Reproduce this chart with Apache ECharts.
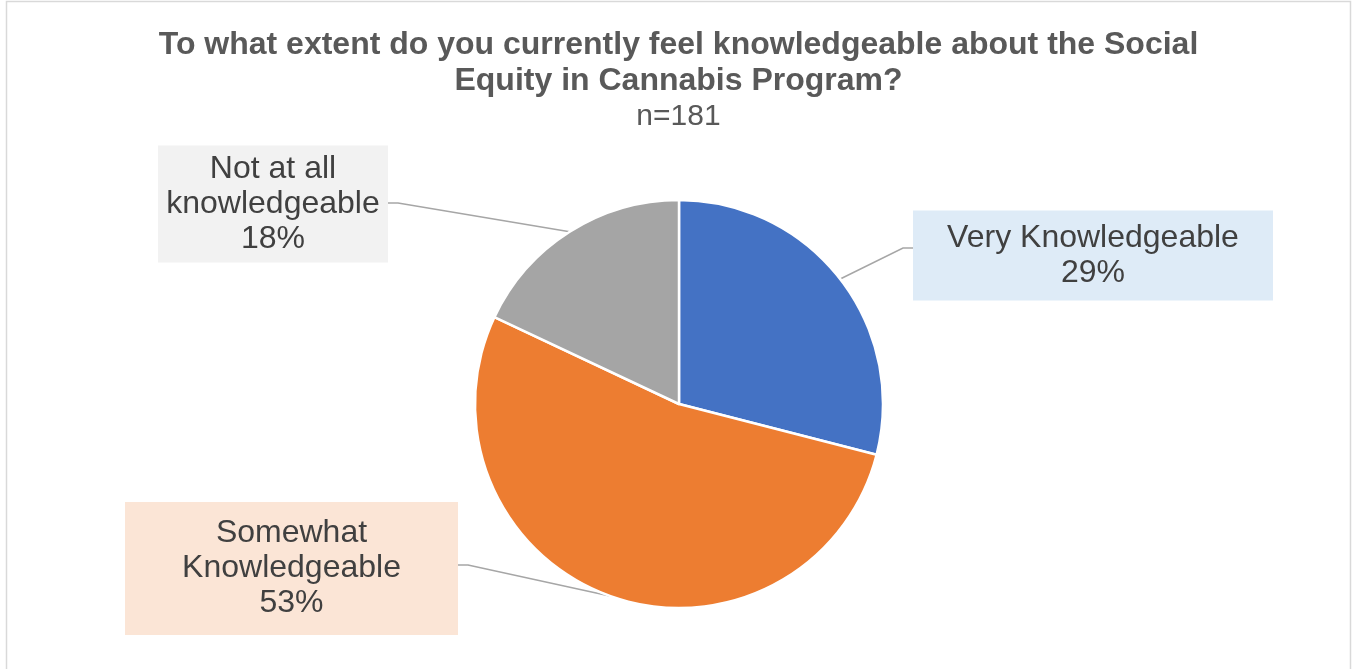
<!DOCTYPE html>
<html>
<head>
<meta charset="utf-8">
<title>Social Equity in Cannabis Program knowledge</title>
<script src="https://cdn.jsdelivr.net/npm/echarts@6/dist/echarts.min.js"></script>
<style>
  html, body { margin: 0; padding: 0; background: #ffffff; }
  #chart { width: 1357px; height: 669px; }
</style>
</head>
<body>
<div id="chart"></div>
<script>
// Survey answers (share of respondents, %)
const categories = ['Very Knowledgeable', 'Somewhat\nKnowledgeable', 'Not at all\nknowledgeable'];
const percentages = [29, 53, 18];
const sliceColors = ['#4472C4', '#ED7D31', '#A5A5A5'];
const labelFills = ['#DEEBF7', '#FBE5D6', '#F2F2F2'];

const titleLines = 'To what extent do you currently feel knowledgeable about the Social\nEquity in Cannabis Program?';
const sampleSize = 'n=181';

// Label box placement: centre x, centre y, box width, vertical padding, leader attach y
const labelBoxes = [
  { cx: 1093, cy: 255.5, w: 360, padV: 10, lineY: 248 },
  { cx: 291.5, cy: 568.5, w: 333, padV: 14, lineY: 565 },
  { cx: 273, cy: 204, w: 230, padV: 6, lineY: 203 }
];

const FONT = '"Liberation Sans", Arial, sans-serif';

const chart = echarts.init(document.getElementById('chart'), null, { renderer: 'canvas' });

const seriesData = categories.map((name, i) => ({
  name: name,
  value: percentages[i],
  itemStyle: { color: sliceColors[i] },
  label: {
    backgroundColor: labelFills[i],
    width: labelBoxes[i].w,
    padding: [labelBoxes[i].padV, 0, labelBoxes[i].padV, 0]
  }
}));

chart.setOption({
  animation: false,
  backgroundColor: '#ffffff',
  title: {
    text: titleLines,
    subtext: sampleSize,
    left: 'center',
    top: 22,
    itemGap: 0,
    textStyle: {
      fontFamily: FONT,
      fontSize: 32,
      fontWeight: 'bold',
      color: '#595959',
      lineHeight: 36
    },
    subtextStyle: {
      fontFamily: FONT,
      fontSize: 30,
      color: '#595959',
      lineHeight: 36
    }
  },
  graphic: [{
    type: 'rect',
    shape: { x: 6.5, y: 1.5, width: 1344, height: 720 },
    style: { fill: null, stroke: '#d9d9d9', lineWidth: 1.5 },
    silent: true,
    z: -1
  }],
  series: [{
    type: 'pie',
    center: [679, 404],
    radius: 204,
    startAngle: 90,
    clockwise: true,
    avoidLabelOverlap: false,
    itemStyle: { borderColor: '#ffffff', borderWidth: 2.5 },
    emphasis: { disabled: true },
    label: {
      show: true,
      position: 'outside',
      formatter: (p) => p.name + '\n' + p.value + '%',
      fontFamily: FONT,
      fontSize: 32,
      lineHeight: 35,
      color: '#404040',
      align: 'center',
      overflow: 'none'
    },
    labelLine: {
      show: true,
      length: 20,
      length2: 10,
      lineStyle: { color: '#a6a6a6', width: 1.5 }
    },
    labelLayout: function (params) {
      const box = labelBoxes[params.dataIndex];
      const onRight = box.cx > 679;
      const edgeX = onRight ? box.cx - box.w / 2 : box.cx + box.w / 2;
      const elbowX = onRight ? edgeX - 10 : edgeX + 10;
      const start = params.labelLinePoints ? params.labelLinePoints[0] : [elbowX, box.lineY];
      return {
        x: box.cx,
        y: box.cy,
        align: 'center',
        verticalAlign: 'middle',
        labelLinePoints: [start, [elbowX, box.lineY], [edgeX, box.lineY]]
      };
    },
    data: seriesData
  }]
});
</script>
</body>
</html>
